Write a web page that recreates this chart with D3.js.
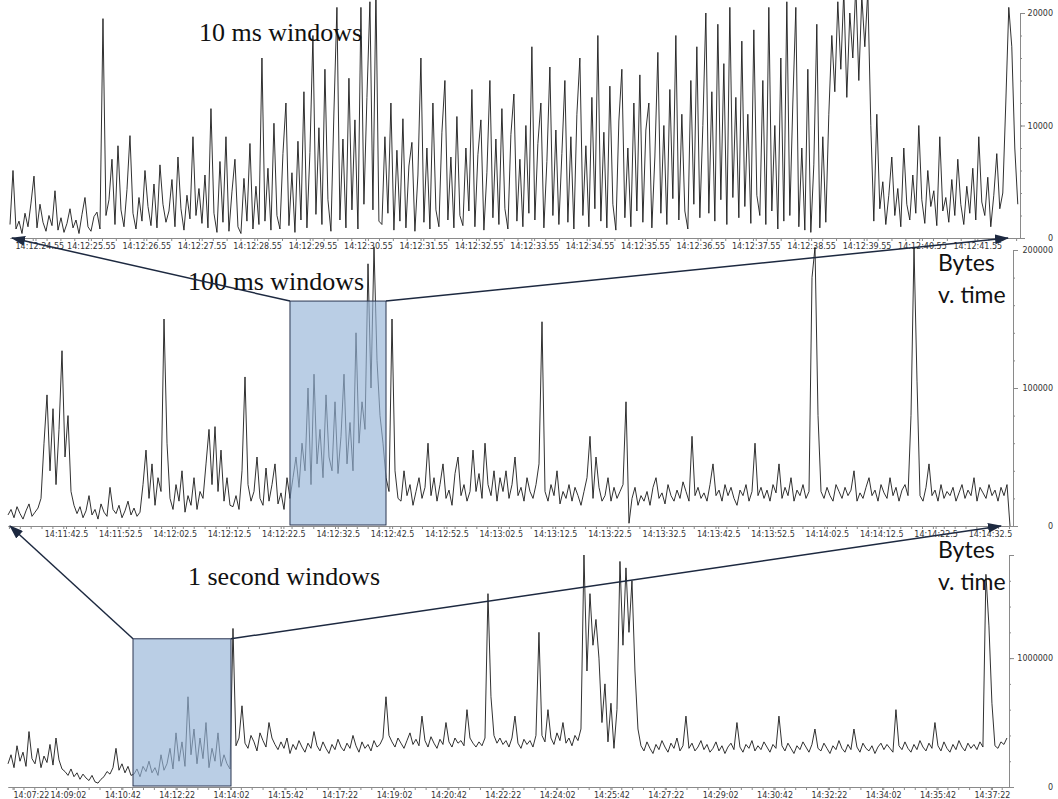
<!DOCTYPE html>
<html>
<head>
<meta charset="utf-8">
<title>Bytes v. time at three window sizes</title>
<script src="https://d3js.org/d3.v7.min.js"></script>
<style>
  body { margin: 0; background: #fff; }
  .tick text { font-family: "DejaVu Sans", sans-serif; font-size: 8px; fill: #333; }
  .domain, .tick line { stroke: #8a8a8a; }
  .title { font-family: "Liberation Serif", "Times New Roman", serif; font-size: 26px; fill: #111; }
  .note { font-family: Lato, "Open Sans", sans-serif; font-size: 23px; fill: #111; }
</style>
</head>
<body>
<svg id="chart" width="1058" height="799"></svg>
<script>
// ---- data (bytes per window, in thousands) ----
const p1Bytes = [
  1.2, 6.0, 0.8, 1.5, 0.4, 2.2, 1.0, 3.1, 5.5, 0.9, 3.0, 1.4, 0.6, 2.0, 1.1, 4.2, 0.7, 1.8, 0.5, 1.3, 2.6, 0.9, 1.6, 0.4, 2.1, 3.6, 1.0, 0.6, 1.9, 2.3, 0.8,
  19.5, 2.0, 3.4, 7.0, 1.2, 8.2, 2.5, 1.0, 4.3, 9.1, 2.2, 0.8, 3.6, 1.5, 6.0, 2.8, 1.1, 4.8, 0.9, 6.5, 3.0, 1.4, 2.4, 5.2, 1.0, 7.2, 2.6, 0.7, 3.8, 1.7, 9.0, 2.0, 4.4,
  1.3, 5.6, 0.9, 11.5, 2.2, 0.5, 6.8, 1.4, 9.0, 0.6, 4.1, 7.0, 1.0, 0.4, 5.3, 1.5, 8.4, 0.8, 4.6, 1.2,
  16.0, 1.5, 6.2, 0.7, 10.2, 2.0, 0.8, 7.5, 12.0, 1.1, 5.8, 0.5, 8.6,
  1.6, 13.0, 0.9, 7.6, 18.0, 2.1, 9.8, 1.2, 15.0, 3.4, 0.6, 11.2, 20.5, 1.6, 8.8, 0.9, 14.2, 2.5, 10.5, 0.8,
  20.5, 3.0, 12.5, 21.0, 2.5, 22.0, 1.5,
  1.2, 9.0, 2.2, 12.0, 0.7, 7.8, 1.5, 10.6, 0.9, 6.4, 8.5, 0.6, 5.6,
  16.0, 1.4, 8.0, 0.8, 12.0, 2.5, 1.0, 9.4, 14.0, 1.6, 7.2, 0.9, 10.8, 2.0, 1.1, 8.0, 2.4,
  13.2, 1.0, 7.4, 10.5, 0.7, 5.8, 14.0, 1.8, 8.8, 1.2, 11.5, 2.6, 0.8, 9.2, 12.8, 1.5, 7.0, 1.0, 10.0, 2.2,
  17.0, 1.6, 8.4, 12.0, 0.9, 6.8, 15.2, 2.0, 9.6, 1.2,
  7.5, 14.0, 1.4, 9.0, 0.8, 11.0, 16.0, 2.0, 8.2, 1.0, 12.5, 2.6, 18.0, 1.5, 9.4, 0.9, 13.5, 3.0, 0.7, 10.4, 15.0, 1.8, 8.0, 1.0, 12.0, 2.4, 14.5,
  1.4, 9.6, 12.0, 0.9, 7.2, 16.5, 2.2, 10.0, 1.2, 13.2, 3.5, 18.0, 1.6, 11.0, 2.4, 0.8, 14.0, 3.0, 17.0, 1.8,
  10.0, 20.0, 2.2, 13.0, 1.5, 19.0, 3.4, 15.5, 1.2, 20.5, 3.6, 12.5, 1.8, 17.5, 2.8, 11.0, 1.3, 18.5, 3.8, 2.0,
  14.0, 1.2, 20.5, 2.4, 10.0, 0.8, 16.0, 1.5, 21.0, 2.0, 12.0, 20.5, 1.0, 8.0, 0.7, 15.0, 0.5, 6.5, 19.0, 0.9, 9.0, 1.4,
  11.0, 18.0, 13.0, 21.0, 15.0, 22.0, 12.5, 20.0, 16.0, 22.5, 14.0, 21.5, 17.0, 22.0, 10.0,
  1.5, 11.0, 2.6, 5.0, 1.2, 3.8, 7.2, 2.0, 4.4, 1.0, 8.0, 3.0, 1.6, 5.6, 2.2, 10.0, 3.4, 1.3, 6.0, 2.8, 4.2, 1.1, 9.0, 2.4, 3.6, 1.4, 5.2, 2.0, 7.0, 3.0, 1.2, 4.6, 2.2, 6.2, 1.6, 9.0, 3.2, 2.0, 5.4, 1.0, 3.8, 7.5, 2.6,
  4.0, 12.0, 20.5, 17.0, 8.0, 3.0
];
const p2Bytes = [
  8, 12, 6, 14, 9, 5, 11, 16, 7, 10, 13, 20,
  60, 95, 40, 85, 30, 70, 127, 50, 80, 25, 15,
  9, 14, 6, 11, 22, 8, 12, 5, 16, 10, 7, 28, 12, 9, 15, 6, 11, 18, 8, 13, 7, 10,
  30, 55, 20, 45, 15, 35, 25, 150, 60, 20,
  12, 30, 18, 40, 10, 22, 15, 35, 12, 25,
  20, 45, 70, 30, 72, 25, 55, 18, 35, 15,
  14, 22, 12, 40, 108, 30, 18, 25, 50, 20, 15, 42, 18, 30, 45, 16, 24, 12, 35, 20,
  35, 50, 28, 60, 40, 100, 30, 110, 45, 70, 35, 95, 50, 40, 90, 38, 65, 110, 45, 75, 40, 140, 60, 90, 70, 190, 100, 202, 120, 80, 60, 35,
  25, 150, 40, 20,
  18, 40, 22, 30, 15, 25, 35, 20, 28, 60, 22, 35, 18, 30, 45, 20, 26, 15, 38, 50, 22, 30, 18, 25,
  55, 25, 38, 20, 60, 30, 22, 40, 18, 35, 25, 40, 20, 30, 50, 22, 28, 18, 35, 25, 20, 30, 45, 148,
  25, 18, 30, 22, 40, 16, 25, 20, 30, 18, 28, 22, 15, 25, 35, 65, 20, 50, 28, 18,
  22, 35, 18, 28, 20, 25, 30, 90, 2, 20, 28, 15, 22,
  18, 25, 15, 28, 35, 20, 24, 16, 30, 22, 18, 26, 20, 32, 25, 18, 65, 22, 28, 20,
  24, 18, 30, 45, 22, 26, 18, 30, 22, 28, 20, 15, 26, 22, 30, 18, 25, 60, 22, 28,
  20, 26, 18, 30, 24, 45, 20, 28, 22, 35, 18, 26, 22, 30, 20, 25, 180, 202, 80, 25, 20, 28,
  22, 18, 30, 25, 20, 28, 22, 26, 40, 18, 24, 20, 28, 35, 22, 26, 18, 30, 24, 20, 35, 22, 28, 18, 26, 30, 22,
  80, 202, 105, 22,
  18, 28, 45, 22, 26, 18, 30, 20, 25, 22, 28, 18, 24, 30, 20, 26, 22, 35, 18, 28, 24, 20, 30, 22, 26, 18, 28, 22, 30, 0
];
const p3Bytes = [
  180, 250, 150, 320, 200, 270, 160, 430, 220, 180, 300, 150, 240, 190, 330, 170, 380, 210, 140,
  120, 90, 140, 80, 110, 60, 100, 70, 50, 90, 40, 30, 60, 80, 120, 100,
  150, 300, 130, 180, 110, 160, 90,
  100, 140, 80, 160, 120, 200, 110, 150, 90, 250, 130, 180, 300, 140, 420, 200, 350, 160, 700, 250, 450, 180, 380, 220, 500, 150, 300, 200, 420, 160, 250, 180, 140,
  1230, 320, 380, 630, 340, 300, 400, 350, 280, 420, 360, 310, 500, 380, 330, 290,
  350, 300, 380, 260, 330, 290, 360, 310, 270, 340, 300, 430, 320, 280, 350, 300, 260, 330, 290, 370, 310, 280, 340, 300, 400, 320, 270, 350, 300, 330, 280, 360, 310,
  330, 380, 700, 400, 350, 310, 380, 340, 300, 360, 420, 330, 370, 320, 550, 360, 310, 390, 340, 300, 370, 330, 500, 350, 310, 380, 340, 360, 320, 600, 380, 340, 310,
  350, 320, 380, 1500, 700, 400, 340, 380,
  330, 360, 310, 380, 550, 340, 300, 370, 330, 360, 310, 400, 1200,
  400, 350, 600, 380, 330, 420, 360, 500, 340, 380, 320, 400, 360, 450,
  1800, 900, 1500, 1100, 1300, 1000,
  500, 800, 350, 650, 300, 600,
  1750, 1100, 1700, 1200, 1600, 900, 450,
  320, 280, 350, 300, 260, 330, 290, 360, 310, 270,
  340, 300, 380, 280, 320, 550, 300, 340, 280, 310,
  360, 290, 330, 270, 300, 350, 280, 320, 260, 310,
  340, 290, 500, 310, 270, 330, 300, 360, 280, 320,
  290, 350, 310, 270, 330, 300, 550, 320, 280, 340,
  300, 260, 320, 290, 350, 310, 270, 330, 450, 300,
  280, 340, 300, 260, 320, 290, 360, 300, 270, 330,
  290, 450, 310, 270, 340, 300, 280, 320, 260, 310,
  340, 290, 330, 300, 270, 600, 320, 290, 350, 300,
  270, 330, 290, 360, 310, 280, 340, 300, 500, 320,
  280, 350, 300, 270, 330, 290, 360, 310, 280, 340,
  300, 330, 290, 350, 310, 1650,
  1250, 650, 320, 300, 350, 330, 380
];

// first and last sample time of each series
const p1Span = ["14:12:24.09", "14:12:42.28"];
const p2Span = ["14:11:31.83", "14:14:36.19"];
const p3Span = ["14:07:11.6", "14:37:49.6"];

// visible time range of each panel
const p1Domain = ["14:12:24.09", "14:12:42.32"];
const p2Domain = ["14:11:31.83", "14:14:36.74"];
const p3Domain = ["14:07:11.6", "14:37:53.4"];

const p1TickLabels = ["14:12:24.55", "14:12:25.55", "14:12:26.55", "14:12:27.55", "14:12:28.55", "14:12:29.55",
  "14:12:30.55", "14:12:31.55", "14:12:32.55", "14:12:33.55", "14:12:34.55", "14:12:35.55",
  "14:12:36.55", "14:12:37.55", "14:12:38.55", "14:12:39.55", "14:12:40.55", "14:12:41.55"];
const p2TickLabels = ["14:11:42.5", "14:11:52.5", "14:12:02.5", "14:12:12.5", "14:12:22.5", "14:12:32.5",
  "14:12:42.5", "14:12:52.5", "14:13:02.5", "14:13:12.5", "14:13:22.5", "14:13:32.5",
  "14:13:42.5", "14:13:52.5", "14:14:02.5", "14:14:12.5", "14:14:22.5", "14:14:32.5"];
const p3TickLabels = ["14:07:22", "14:09:02", "14:10:42", "14:12:22", "14:14:02", "14:15:42",
  "14:17:22", "14:19:02", "14:20:42", "14:22:22", "14:24:02", "14:25:42",
  "14:27:22", "14:29:02", "14:30:42", "14:32:22", "14:34:02", "14:35:42", "14:37:22"];

const p1YTicks = [0, 10000, 20000];
const p2YTicks = [0, 100000, 200000];
const p3YTicks = [0, 1000000];

// zoom boxes: the window that the panel above shows
const p2Box = ["14:12:23.71", "14:12:41.38"], p2BoxTop = 163000;
const p3Box = ["14:11:01.6", "14:14:01.9"], p3BoxTop = 1150000;

const titles = ["10 ms windows", "100 ms windows", "1 second windows"];
const note = ["Bytes", "v. time"];

// ---- drawing ----
function sec(s) {
  const p = s.split(":");
  return +p[0] * 3600 + +p[1] * 60 + +p[2];
}

const svg = d3.select("#chart");
const panels = [
  { values: p1Bytes, span: p1Span, domain: p1Domain, ticks: p1TickLabels, minor: 0.25,
    xr: [10, 1020], yMax: 20000, yr: [238, 13], yTicks: p1YTicks, yMinor: 2000,
    title: titles[0], titlePos: [199, 41] },
  { values: p2Bytes, span: p2Span, domain: p2Domain, ticks: p2TickLabels, minor: 2,
    xr: [8, 1013], yMax: 200000, yr: [526, 250], yTicks: p2YTicks, yMinor: 20000,
    title: titles[1], titlePos: [188, 290], box: p2Box, boxTop: p2BoxTop, notePos: [938, 271] },
  { values: p3Bytes, span: p3Span, domain: p3Domain, ticks: p3TickLabels, minor: 20,
    xr: [8, 1009], yMax: 1800000, yr: [787, 555], yTicks: p3YTicks, yMinor: 200000,
    title: titles[2], titlePos: [188, 585], box: p3Box, boxTop: p3BoxTop, notePos: [938, 558] }
];

panels.forEach(p => {
  p.x = d3.scaleLinear().domain(p.domain.map(sec)).range(p.xr);
  p.y = d3.scaleLinear().domain([0, p.yMax]).range(p.yr);
});

const defs = svg.append("defs");
defs.append("marker")
  .attr("id", "head")
  .attr("viewBox", "0 0 14 10")
  .attr("refX", 13).attr("refY", 5)
  .attr("markerWidth", 14).attr("markerHeight", 10)
  .attr("markerUnits", "userSpaceOnUse")
  .attr("orient", "auto")
  .append("path").attr("d", "M0,0 L14,5 L0,10 Z").attr("fill", "#1d2940");

panels.forEach(p => {
  const g = svg.append("g");
  const t0 = sec(p.span[0]), t1 = sec(p.span[1]);
  const n = p.values.length;
  const tAt = i => t0 + i * (t1 - t0) / (n - 1);

  // x axis, minor ticks
  const d0 = p.x.domain()[0], d1 = p.x.domain()[1];
  const minorVals = d3.range(Math.ceil(d0 / p.minor) * p.minor, d1, p.minor);
  g.append("g")
    .attr("transform", `translate(0,${p.yr[0]})`)
    .call(d3.axisBottom(p.x).tickValues(minorVals).tickSize(3).tickSizeOuter(0).tickFormat(""));
  // x axis labels
  const xa = g.append("g")
    .attr("transform", `translate(0,${p.yr[0]})`)
    .call(d3.axisBottom(p.x).tickValues(p.ticks.map(sec)).tickSize(3).tickSizeOuter(0)
      .tickFormat((d, i) => p.ticks[i]));
  xa.selectAll(".tick text").attr("dy", "0.6em").each(function () {
    const b = this.getBBox();
    const tx = p.x(d3.select(this.parentNode).datum());
    const left = tx + b.x;
    if (left < p.xr[0] + 5) d3.select(this).attr("x", p.xr[0] + 5 - left);
  });

  // y axis on the right
  g.append("g")
    .attr("transform", `translate(${p.xr[1]},0)`)
    .call(d3.axisRight(p.y).tickValues(d3.range(0, p.yMax + 1, p.yMinor)).tickSize(2).tickSizeOuter(5).tickFormat(""));
  const ya = g.append("g")
    .attr("transform", `translate(${p.xr[1]},0)`)
    .call(d3.axisRight(p.y).tickValues(p.yTicks).tickSize(5).tickSizeOuter(0).tickFormat(d3.format("d")));
  ya.select(".domain").remove();
  ya.selectAll(".tick text").attr("text-anchor", "end").attr("x", 1053 - p.xr[1]);

  // series
  g.append("path")
    .datum(p.values)
    .attr("fill", "none")
    .attr("stroke", "#1a1a1a")
    .attr("stroke-width", 0.9)
    .attr("d", d3.line().x((d, i) => p.x(tAt(i))).y(d => p.y(d * 1000)));

  svg.append("text").attr("class", "title")
    .attr("x", p.titlePos[0]).attr("y", p.titlePos[1]).text(p.title);
});

// zoom boxes and connectors to the panel above
panels.forEach((p, k) => {
  if (!p.box) return;
  const up = panels[k - 1];
  const bx0 = p.x(sec(p.box[0])), bx1 = p.x(sec(p.box[1]));
  const by = p.y(p.boxTop);
  svg.append("rect")
    .attr("x", bx0).attr("y", by)
    .attr("width", bx1 - bx0).attr("height", p.y(0) - 1 - by)
    .attr("fill", "#95b3d7").attr("fill-opacity", 0.65)
    .attr("stroke", "#2a3550").attr("stroke-width", 1);

  const ends = [
    [bx0, by, up.xr[0] + 2, up.yr[0]],
    [bx1, by, up.xr[1] - 12, up.yr[0]]
  ];
  svg.selectAll(null).data(ends).join("line")
    .attr("x1", d => d[0]).attr("y1", d => d[1])
    .attr("x2", d => d[2]).attr("y2", d => d[3])
    .attr("stroke", "#1d2940").attr("stroke-width", 1.5)
    .attr("marker-end", "url(#head)");

  const t = svg.append("text").attr("class", "note")
    .attr("x", p.notePos[0]).attr("y", p.notePos[1]);
  t.selectAll("tspan").data(note).join("tspan")
    .attr("x", p.notePos[0]).attr("dy", (d, i) => i ? 32 : 0).text(d => d);
});
</script>
</body>
</html>
